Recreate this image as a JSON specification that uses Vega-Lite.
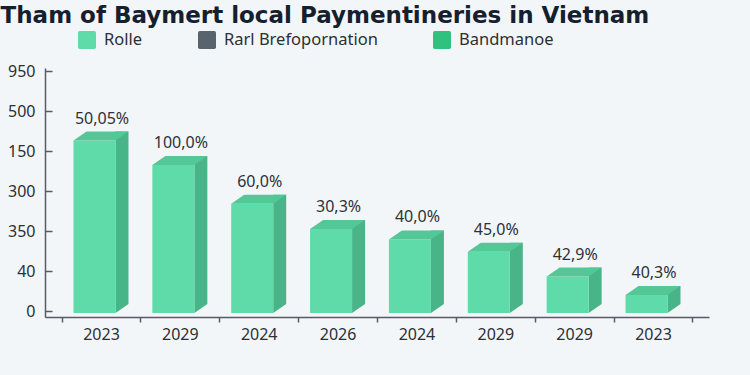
{
  "$schema": "https://vega.github.io/schema/vega-lite/v6.json",
  "width": 664,
  "height": 249,
  "autosize": {"type": "none"},
  "padding": {"left": 45, "top": 68, "right": 41, "bottom": 58},
  "background": "#f3f6f8",
  "title": {
    "text": "Tham of Baymert local Paymentineries in Vietnam",
    "anchor": "start",
    "frame": "bounds",
    "font": "DejaVu Sans",
    "fontSize": 23,
    "fontWeight": "bold",
    "color": "#14202e",
    "dx": -7,
    "dy": 1
  },
  "data": {
    "values": [
      {"key": "2023_1", "value": 4.26, "label": "50,05%", "series": "Rolle"},
      {"key": "2029_2", "value": 3.65, "label": "100,0%", "series": "Rolle"},
      {"key": "2024_3", "value": 2.68, "label": "60,0%", "series": "Rolle"},
      {"key": "2026_4", "value": 2.05, "label": "30,3%", "series": "Rolle"},
      {"key": "2024_5", "value": 1.79, "label": "40,0%", "series": "Rolle"},
      {"key": "2029_6", "value": 1.48, "label": "45,0%", "series": "Rolle"},
      {"key": "2029_7", "value": 0.86, "label": "42,9%", "series": "Rolle"},
      {"key": "2023_8", "value": 0.40, "label": "40,3%", "series": "Rolle"}
    ]
  },
  "encoding": {
    "x": {
      "field": "key",
      "type": "nominal",
      "sort": null,
      "scale": {"paddingInner": 0, "paddingOuter": 0.21},
      "axis": {
        "title": null,
        "labelAngle": 0,
        "labelExpr": "isValid(datum.value) ? split(datum.value, '_')[0] : ''",
        "tickBand": "extent",
        "tickSize": 5,
        "labelPadding": 4,
        "labelFont": "Noto Sans",
        "labelFontSize": 16,
        "labelColor": "#2b2f36",
        "domainColor": "#555c66",
        "domainWidth": 1.5,
        "tickColor": "#555c66",
        "tickWidth": 1.5
      }
    },
    "y": {
      "field": "value",
      "type": "quantitative",
      "scale": {"domain": [-0.15, 6.075], "nice": false, "zero": false},
      "axis": {
        "title": null,
        "grid": false,
        "values": [0, 1, 2, 3, 4, 5, 6],
        "labelExpr": "datum.value == 6 ? '950' : datum.value == 5 ? '500' : datum.value == 4 ? '150' : datum.value == 3 ? '300' : datum.value == 2 ? '350' : datum.value == 1 ? '40' : '0'",
        "tickSize": -7,
        "labelPadding": 17,
        "labelFont": "Noto Sans",
        "labelFontSize": 16,
        "labelColor": "#2b2f36",
        "domainColor": "#555c66",
        "domainWidth": 1.5,
        "tickColor": "#555c66",
        "tickWidth": 1.5
      }
    }
  },
  "layer": [
    {
      "mark": {"type": "bar", "width": 13, "xOffset": 21, "yOffset": -9, "y2Offset": -7, "color": "#48b488"},
      "encoding": {"y2": {"datum": 0}}
    },
    {
      "mark": {"type": "point", "shape": "M 14.5 -9 L 14.5 0 L 27.5 -9 Z", "size": 4, "filled": true, "opacity": 1, "color": "#48b488", "yOffset": 2, "strokeWidth": 0},
      "encoding": {"y": {"datum": 0}}
    },
    {
      "mark": {"type": "bar", "width": 42, "xOffset": -6.5, "y2Offset": 2},
      "encoding": {
        "y2": {"datum": 0},
        "color": {
          "field": "series",
          "type": "nominal",
          "scale": {"domain": ["Rolle", "Rarl Brefopornation", "Bandmanoe"], "range": ["#5fdba9", "#59636d", "#2ec27e"]},
          "legend": {
            "title": null,
            "orient": "none",
            "direction": "horizontal",
            "legendX": 33,
            "legendY": -37,
            "symbolType": "M -0.8 -1 L 0.8 -1 Q 1 -1 1 -0.8 L 1 0.8 Q 1 1 0.8 1 L -0.8 1 Q -1 1 -1 0.8 L -1 -0.8 Q -1 -1 -0.8 -1 Z",
            "symbolSize": 324,
            "symbolStrokeWidth": 0,
            "symbolOpacity": 1,
            "labelFont": "Noto Sans",
            "labelFontSize": 16.5,
            "labelColor": "#2b2f36",
            "labelOffset": 8,
            "columnPadding": 55
          }
        }
      }
    },
    {
      "mark": {"type": "point", "shape": "M -27.5 0 L 14.5 0 L 27.5 -9 L -14.5 -9 Z", "size": 4, "filled": true, "opacity": 1, "color": "#54c797", "strokeWidth": 0}
    },
    {
      "mark": {"type": "text", "dy": -22, "dx": 1, "baseline": "middle", "font": "Noto Sans", "fontSize": 16, "color": "#2d3138"},
      "encoding": {"text": {"field": "label"}}
    }
  ],
  "config": {"view": {"stroke": null}}
}
